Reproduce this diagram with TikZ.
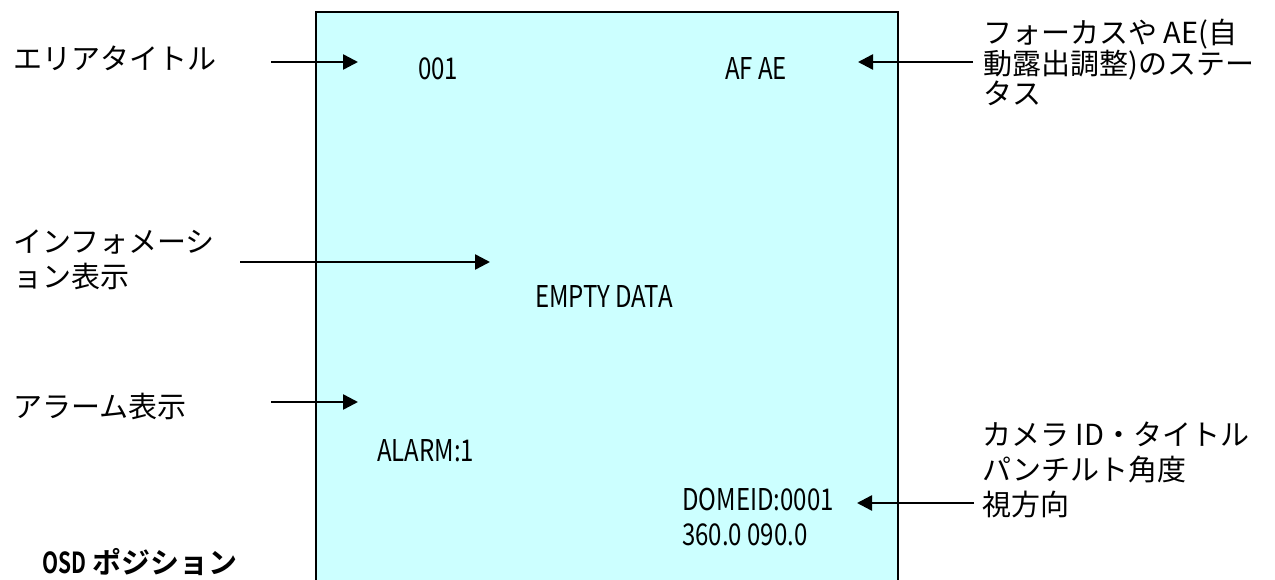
\documentclass[tikz,border=0pt]{standalone}
\usepackage{fontspec}
\usetikzlibrary{arrows.meta}
\newfontfamily\jpfont{Noto Sans CJK JP}
\newfontfamily\jpbold{Noto Sans CJK JP Bold}
\newfontfamily\osdnarrow[FakeStretch=0.72]{Noto Sans CJK JP Bold}
\newfontfamily\scrfont[FakeStretch=0.8]{Noto Sans CJK JP}
\definecolor{screen}{RGB}{204,255,255}
\tikzset{
  lbl/.style={anchor=west, inner sep=0pt, align=left, font=\jpfont\fontsize{29}{30}\selectfont},
  scr/.style={anchor=west, inner sep=0pt, font=\scrfont\fontsize{30}{32}\selectfont},
  arr/.style={line width=2.5pt, -{Triangle[length=15pt,width=15pt]}},
}
\begin{document}
\begin{tikzpicture}[x=1pt,y=-1pt]
\useasboundingbox (0,0) rectangle (1275,580);
% screen
\fill[screen] (316,12) rectangle (898,580);
\draw[line width=2pt] (316,580) -- (316,12) -- (898,12) -- (898,580);
% screen texts
\node[scr] (t001) at (418,69) {001};
\node[scr] (tafae) at (725,69) {AF AE};
\node[scr] (tempty) at (535,297) {EMPTY DATA};
\node[scr] (talarm) at (377,451) {ALARM:1};
\node[scr] (tdome) at (682,500) {DOMEID:0001};
\node[scr] (tang) at (682,535) {360.0 090.0};
% labels
\node[lbl] (l1) at (13,58) {エリアタイトル};
\node[lbl] (l2) at (983,62) {フォーカスや AE(自\\動露出調整)のステー\\タス};
\node[lbl, font=\jpfont\fontsize{29}{35}\selectfont] (l3) at (13,260) {インフォメーシ\\ョン表示};
\node[lbl] (l4) at (13,406) {アラーム表示};
\node[lbl, font=\jpfont\fontsize{29}{35}\selectfont] (l5) at (982,470) {カメラ ID・タイトル\\パンチルト角度\\視方向};
\node[anchor=west, inner sep=0pt, font=\jpbold\fontsize{29}{30}\selectfont] (osd) at (42,562) {{\osdnarrow OSD} ポジション};
% arrows
\coordinate (a1s) at (271,62); \coordinate (a1e) at (358,62);
\coordinate (a2s) at (973,62); \coordinate (a2e) at (858,62);
\coordinate (a3s) at (240,262); \coordinate (a3e) at (490,262);
\coordinate (a4s) at (271,402); \coordinate (a4e) at (358,402);
\coordinate (a5s) at (974,503); \coordinate (a5e) at (857,503);
\draw[arr] (a1s) -- (a1e);
\draw[arr] (a2s) -- (a2e);
\draw[arr] (a3s) -- (a3e);
\draw[arr] (a4s) -- (a4e);
\draw[arr] (a5s) -- (a5e);
\end{tikzpicture}
\end{document}
